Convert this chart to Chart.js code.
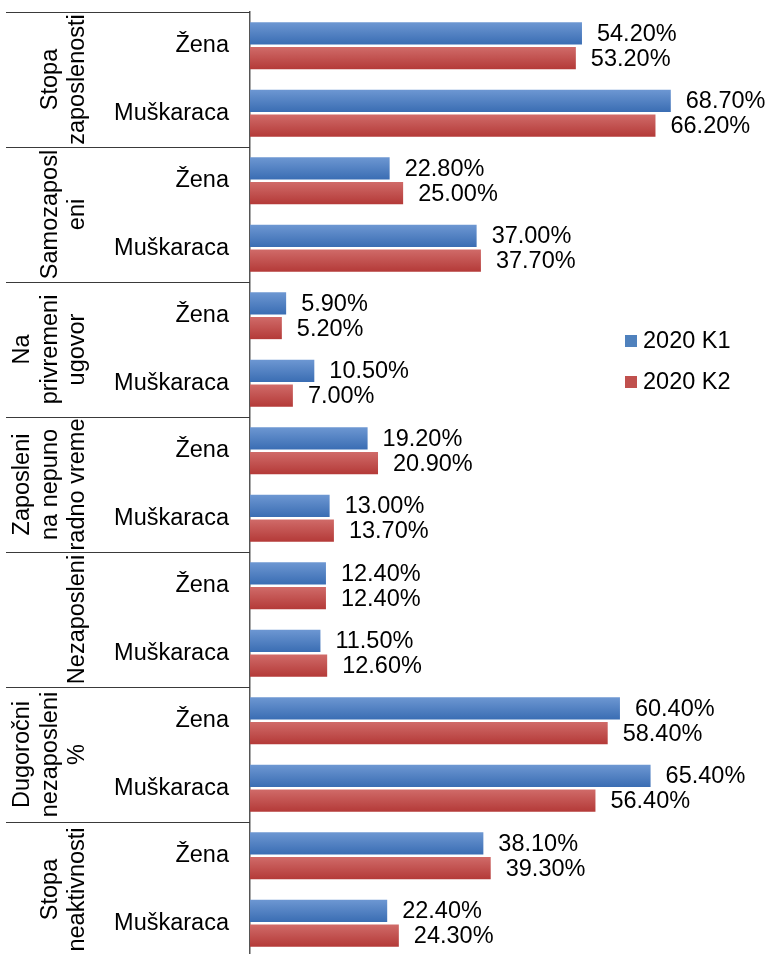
<!DOCTYPE html>
<html lang="sr">
<head>
<meta charset="UTF-8">
<title>Tržište rada po polu</title>
<script src="https://cdn.jsdelivr.net/npm/chart.js"></script>
<style>
  html, body { margin: 0; padding: 0; background: #fff; overflow: hidden; }
  #chart { display: block; }
</style>
</head>
<body>
<canvas id="chart" width="771" height="960" style="width:771px;height:960px"></canvas>
<script>
// categories (two per group) and group titles, split into lines as in the original
const categories = ['Žena', 'Muškaraca', 'Žena', 'Muškaraca', 'Žena', 'Muškaraca', 'Žena', 'Muškaraca',
                    'Žena', 'Muškaraca', 'Žena', 'Muškaraca', 'Žena', 'Muškaraca'];
const groupNames = [
    ['Stopa', 'zaposlenosti'],
    ['Samozaposl', 'eni'],
    ['Na', 'privremeni', 'ugovor'],
    ['Zaposleni', 'na nepuno', 'radno vreme'],
    ['Nezaposleni'],
    ['Dugoročni', 'nezaposleni', '%'],
    ['Stopa', 'neaktivnosti']
];
const seriesNames = ['2020 K1', '2020 K2'];
const k1 = [54.2, 68.7, 22.8, 37.0, 5.9, 10.5, 19.2, 13.0, 12.4, 11.5, 60.4, 65.4, 38.1, 22.4];
const k2 = [53.2, 66.2, 25.0, 37.7, 5.2, 7.0, 20.9, 13.7, 12.4, 12.6, 58.4, 56.4, 39.3, 24.3];

const FONT = '"Liberation Sans", Arial, sans-serif';
const colors = [
    { top: '#6d97d2', bottom: '#3a6db3', flat: '#4f81bd' },
    { top: '#d06b69', bottom: '#b43a38', flat: '#c0504d' }
];

// vertical gradient per bar, like the Excel fill
const barGradient = {
    id: 'barGradient',
    beforeDatasetsDraw(chart) {
        const ctx = chart.ctx;
        chart.data.datasets.forEach((ds, i) => {
            chart.getDatasetMeta(i).data.forEach(bar => {
                const t = bar.y - bar.height / 2, b = bar.y + bar.height / 2;
                const g = ctx.createLinearGradient(0, t, 0, b);
                g.addColorStop(0, colors[i].top);
                g.addColorStop(1, colors[i].bottom);
                bar.options = Object.assign({}, bar.options, { backgroundColor: g });
            });
        });
    }
};

// value labels to the right of each bar
const valueLabels = {
    id: 'valueLabels',
    afterDatasetsDraw(chart) {
        const ctx = chart.ctx;
        ctx.save();
        ctx.font = '23.5px ' + FONT;
        ctx.fillStyle = '#000';
        ctx.textAlign = 'left';
        ctx.textBaseline = 'middle';
        chart.data.datasets.forEach((ds, i) => {
            chart.getDatasetMeta(i).data.forEach((bar, j) => {
                ctx.fillText(ds.data[j].toFixed(2) + '%', bar.x + 15, bar.y + 1);
            });
        });
        ctx.restore();
    }
};

// group separators, rotated group titles and the legend
const groupAxis = {
    id: 'groupAxis',
    afterDraw(chart) {
        const ctx = chart.ctx;
        const y = chart.scales.y;
        const h = (y.bottom - y.top) / categories.length;
        const axisX = chart.chartArea.left;
        ctx.save();
        ctx.strokeStyle = '#3a3a3a';
        ctx.lineWidth = 1.2;
        for (let g = 0; g <= groupNames.length; g++) {
            const yy = Math.round(y.getPixelForValue(2 * g) - h / 2) + 0.5;
            ctx.beginPath();
            ctx.moveTo(6, yy);
            ctx.lineTo(axisX, yy);
            ctx.stroke();
        }
        ctx.font = '23.5px ' + FONT;
        ctx.fillStyle = '#000';
        ctx.textAlign = 'center';
        ctx.textBaseline = 'middle';
        groupNames.forEach((lines, g) => {
            const cy = (y.getPixelForValue(2 * g) + y.getPixelForValue(2 * g + 1)) / 2;
            lines.forEach((txt, k) => {
                const cx = 78 - (lines.length - 1 - k) * 27.5;
                ctx.save();
                ctx.translate(cx, cy);
                ctx.rotate(-Math.PI / 2);
                ctx.fillText(txt, 0, 0);
                ctx.restore();
            });
        });
        // legend
        ctx.textAlign = 'left';
        seriesNames.forEach((name, i) => {
            const ly = 341 + i * 41;
            ctx.fillStyle = colors[i].flat;
            ctx.fillRect(625, ly - 6, 12, 12);
            ctx.fillStyle = '#000';
            ctx.fillText(name, 643, ly + 1);
        });
        ctx.restore();
    }
};

new Chart(document.getElementById('chart'), {
    type: 'bar',
    data: {
        labels: categories,
        datasets: [
            { label: seriesNames[0], data: k1, backgroundColor: colors[0].flat },
            { label: seriesNames[1], data: k2, backgroundColor: colors[1].flat }
        ]
    },
    options: {
        indexAxis: 'y',
        responsive: false,
        animation: false,
        categoryPercentage: 0.73,
        barPercentage: 0.9,
        layout: { padding: { top: 12, right: 31, bottom: 3, left: 0 } },
        plugins: { legend: { display: false }, tooltip: { enabled: false } },
        scales: {
            x: { display: false, min: 0, max: 80 },
            y: {
                grid: { display: false, drawTicks: false },
                border: { display: true, color: '#555', width: 1.5 },
                ticks: { color: '#000', padding: 21, font: { family: FONT, size: 23.5 } },
                afterFit(scale) {
                    scale.width = 250;
                    scale.paddingTop = 0;
                    scale.paddingBottom = 0;
                }
            }
        }
    },
    plugins: [barGradient, valueLabels, groupAxis]
});
</script>
</body>
</html>
